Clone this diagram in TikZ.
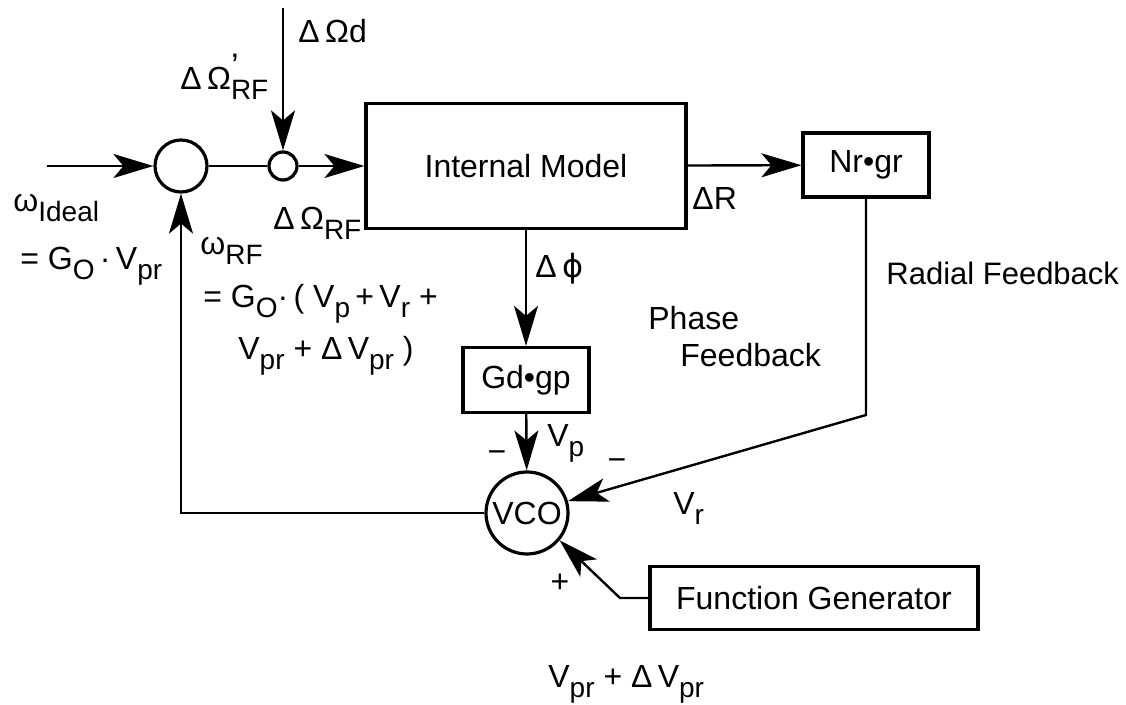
\documentclass[tikz,border=0pt]{standalone}
\usepackage{fontspec}
\setmainfont{Liberation Sans}
\newfontfamily\phifont{DejaVu Sans}
\usepackage{tikz}
\usetikzlibrary{arrows.meta, calc}

% lowered subscript and stacked prime/subscript
\newcommand{\lo}[1]{\raisebox{-5pt}{\fontsize{14}{14}\selectfont #1}}
\newcommand{\losup}[2]{\rlap{\raisebox{6pt}{\fontsize{17}{17}\selectfont #1}}\lo{#2}}

\tikzset{
  block/.style={draw, line width=1.6pt, rectangle, inner sep=0pt},
  sumnode/.style={draw, line width=1.6pt, circle, inner sep=0pt},
  arr/.style={line width=1.2pt, -{Stealth[length=20pt, width=12pt, inset=5pt]}},
  wire/.style={line width=1.2pt},
  lbl/.style={inner sep=0pt, font=\fontsize{16}{19}\selectfont},
}

\begin{document}
\begin{tikzpicture}[x=0.5pt, y=-0.5pt]
\useasboundingbox (0,0) rectangle (1126,705);

% Summing points and blocks
\node[sumnode, minimum size=26pt] (sumA) at (181,166) {};
\node[sumnode, minimum size=14pt] (sumB) at (283,166) {};
\node[block, lbl, minimum width=160pt, minimum height=62.5pt] (model) at (526,166) {Internal Model};
\node[block, lbl, minimum width=63pt, minimum height=32pt] (nrgr) at (866,165) {Nr•gr};
\node[block, lbl, minimum width=63pt, minimum height=32.5pt] (gdgp) at (526,380) {Gd•gp};
\node[sumnode, lbl, minimum size=41pt] (vco) at (527,513) {VCO};
\node[block, lbl, minimum width=164pt, minimum height=31.5pt] (fgen) at (814,598) {Function Generator};

% Free ends and corners
\coordinate (inA) at (47,166);
\coordinate (dTop) at (283,8);
\coordinate (rCorner) at (866,415);
\coordinate (fCorner) at (620,598);

% Connectors
\draw[arr] (inA) -- (sumA);
\draw[wire] (sumA) -- (sumB);
\draw[arr] (dTop) -- (sumB);
\draw[arr] (sumB) -- (model);
\draw[arr] (model) -- (nrgr);
\draw[arr] (model) -- (gdgp);
\draw[arr] (gdgp) -- (vco);
\draw[arr] (nrgr) -- (rCorner) -- (vco);
\draw[arr] (fgen) -- (fCorner) -- (vco.-40);
\draw[arr] (vco) -| (sumA);

% Signal labels
\node[lbl, anchor=base west] (lOmegaD) at (298,43) {Δ\,Ωd};
\node[lbl, anchor=base west] (lOmegaRFp) at (180,90) {Δ\,Ω\losup{’}{RF}};
\node[lbl, anchor=base west] (lOmegaRF) at (273,230) {Δ\,Ω\lo{RF}};
\node[lbl, anchor=base west] (lIdeal) at (13,212) {ω\lo{Ideal}};
\node[lbl, anchor=base west] (lIdealEq) at (20,270) {= G\lo{O}\,·\,V\lo{pr}};
\node[lbl, anchor=base west] (lRF) at (200,255) {ω\lo{RF}};
\node[lbl, anchor=base west] (lRFeq) at (203,308) {= G\lo{O}·\,( V\lo{p}\,+\,V\lo{r} +};
\node[lbl, anchor=base west] (lRFeqB) at (238,360) {V\lo{pr} + Δ\,V\lo{pr} )};
\node[lbl, anchor=base west] (lDR) at (692,210) {ΔR};
\node[lbl, anchor=base west] (lDphi) at (535,278) {Δ\,{\phifont ϕ}};
\node[lbl, anchor=base west, font=\fontsize{15.5}{18}\selectfont] (lRadial) at (886,285) {Radial Feedback};
\node[lbl, anchor=base west] (lPhase) at (648,330) {Phase};
\node[lbl, anchor=base west] (lPhaseB) at (680,367) {Feedback};
\node[lbl, anchor=base west] (lVp) at (547,447) {V\lo{p}};
\node[lbl] (lMinusP) at (497,457) {−};
\node[lbl] (lMinusR) at (617,465) {−};
\node[lbl, anchor=base west] (lVr) at (673,515) {V\lo{r}};
\node[lbl] (lPlus) at (560,583) {+};
\node[lbl, anchor=base west] (lVpr) at (548,688) {V\lo{pr} + Δ\,V\lo{pr}};
\end{tikzpicture}
\end{document}
